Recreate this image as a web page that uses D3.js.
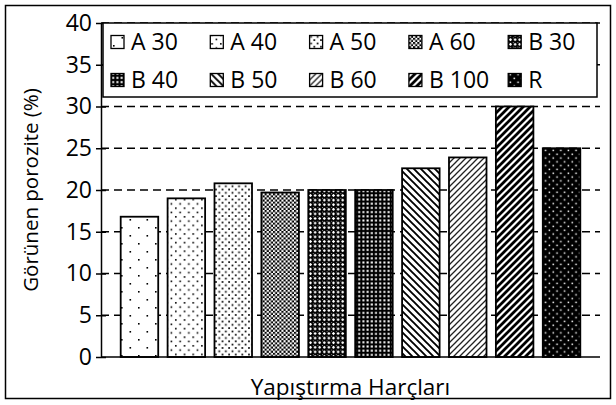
<!DOCTYPE html>
<html>
<head>
<meta charset="utf-8">
<script src="https://cdn.jsdelivr.net/npm/d3@7"></script>
<style>
  html, body { margin: 0; padding: 0; background: #fff; }
  svg { display: block; }
  text { font-family: "Open Sans", "DejaVu Sans", sans-serif; fill: #000; }
</style>
</head>
<body>
<svg id="chart" width="616" height="405"></svg>
<script>
// Mortar mixes and their apparent porosity (%)
const categories = ["A 30", "A 40", "A 50", "A 60", "B 30", "B 40", "B 50", "B 60", "B 100", "R"];
const porosity = [16.8, 19.0, 20.8, 19.7, 20.0, 20.0, 22.6, 23.9, 30.0, 25.0];
const yTicks = [0, 5, 10, 15, 20, 25, 30, 35, 40];
const yTitle = "Görünen porozite (%)";
const xTitle = "Yapıştırma Harçları";

const svg = d3.select("#chart");
const W = 616, H = 405;
const plot = { left: 101, right: 600, top: 23, bottom: 357 };

svg.append("rect").attr("width", W).attr("height", H).attr("fill", "#fff");

// ---- fill patterns, one per mix ----
const defs = svg.append("defs");
function pattern(id, w, h, bg, draw) {
  const p = defs.append("pattern").attr("id", id)
    .attr("patternUnits", "userSpaceOnUse").attr("width", w).attr("height", h);
  p.append("rect").attr("width", w).attr("height", h).attr("fill", bg);
  draw(p);
}
function dots(p, pts, s, col) {
  pts.forEach(([x, y]) => p.append("rect").attr("x", x).attr("y", y)
    .attr("width", s).attr("height", s).attr("fill", col));
}
function lines(p, d, sw, col) {
  p.append("path").attr("d", d).attr("stroke", col).attr("stroke-width", sw)
    .attr("fill", "none");
}
pattern("p0", 17, 16, "#fff", p => dots(p, [[2, 3], [10.5, 11]], 1.6, "#000"));
pattern("p1", 8.7, 8.6, "#fff", p => dots(p, [[1, 1], [5.35, 5.3]], 1.6, "#000"));
pattern("p2", 6.6, 6.6, "#fff", p => dots(p, [[0.6, 0.6], [3.9, 3.9]], 1.7, "#000"));
pattern("p3", 4.2, 4.2, "#fff", p => {
  dots(p, [[0, 0], [2.1, 2.1]], 2.1, "#000");
});
pattern("p4", 4.6, 4.6, "#000", p => {
  p.append("rect").attr("x", 0.9).attr("y", 1.7).attr("width", 2.8).attr("height", 1.2).attr("fill", "#fff");
  p.append("rect").attr("x", 1.7).attr("y", 0.9).attr("width", 1.2).attr("height", 2.8).attr("fill", "#fff");
  p.append("rect").attr("x", 0).attr("y", 0).attr("width", 0.9).attr("height", 0.9).attr("fill", "#999");
});
pattern("p5", 4.2, 4.2, "#000", p => dots(p, [[1.2, 1.1]], 2, "#fff"));
pattern("p6", 7, 7, "#fff", p =>
  lines(p, "M0,0L7,7M-1,6L1,8M6,-1L8,1", 1.9, "#000"));
pattern("p7", 6, 6, "#fff", p =>
  lines(p, "M0,6L6,0M-1,1L1,-1M5,7L7,5", 1.3, "#222"));
pattern("p8", 7, 7, "#fff", p =>
  lines(p, "M0,7L7,0M-1,1L1,-1M6,8L8,6", 2.8, "#000"));
pattern("p9", 7.6, 7.6, "#000", p => dots(p, [[1.5, 1.5], [5.3, 5.3]], 1.5, "#fff"));

// ---- scales ----
const x = d3.scaleBand().domain(categories)
  .range([plot.left, plot.right]).paddingInner(0.2).paddingOuter(0.42);
const y = d3.scaleLinear().domain([0, 40]).range([plot.bottom, plot.top]);

// dashed horizontal gridlines
svg.append("g").selectAll("line").data(yTicks.filter(d => d > 0)).join("line")
  .attr("x1", plot.left).attr("x2", plot.right)
  .attr("y1", d => y(d)).attr("y2", d => y(d))
  .attr("stroke", "#000").attr("stroke-width", 1.5)
  .attr("stroke-dasharray", "8,5");

// bars
svg.append("g").selectAll("rect").data(categories).join("rect")
  .attr("x", d => x(d)).attr("width", x.bandwidth())
  .attr("y", (d, i) => y(porosity[i]))
  .attr("height", (d, i) => y(0) - y(porosity[i]))
  .attr("fill", (d, i) => `url(#p${i})`)
  .attr("stroke", "#000").attr("stroke-width", 1.8);

// y axis with ticks crossing the line
const yAxis = d3.axisLeft(y).tickValues(yTicks).tickSizeInner(5).tickSizeOuter(0).tickPadding(4);
const gy = svg.append("g").attr("transform", `translate(${plot.left},0)`).call(yAxis);
gy.select(".domain").attr("stroke", "#000").attr("stroke-width", 1.5);
gy.selectAll(".tick line").attr("x1", -5).attr("x2", 5).attr("stroke", "#000").attr("stroke-width", 1.5);
gy.selectAll(".tick text").attr("font-size", 23).attr("font-family", null);

// x axis baseline
svg.append("line").attr("x1", plot.left).attr("x2", plot.right)
  .attr("y1", y(0)).attr("y2", y(0)).attr("stroke", "#000").attr("stroke-width", 1.5);

// legend
const legend = svg.append("g");
legend.append("rect").attr("x", 103).attr("y", 23).attr("width", 494).attr("height", 74)
  .attr("fill", "#fff").attr("stroke", "#000").attr("stroke-width", 1.5);
const item = legend.selectAll("g.item").data(categories).join("g")
  .attr("transform", (d, i) => `translate(${111 + (i % 5) * 99.3},${(i < 5 ? 42 : 80)})`);
item.append("rect").attr("x", 0).attr("y", -6.5).attr("width", 13).attr("height", 13)
  .attr("fill", (d, i) => `url(#p${i})`).attr("stroke", "#000").attr("stroke-width", 1.3);
item.append("text").attr("x", 20).attr("dy", "0.35em").attr("font-size", 23).text(d => d);

// axis titles
svg.append("text").attr("transform", `translate(31,${(plot.top + plot.bottom) / 2}) rotate(-90)`)
  .attr("text-anchor", "middle").attr("dy", "0.35em").attr("font-size", 20.5).text(yTitle);
svg.append("text").attr("x", (plot.left + plot.right) / 2).attr("y", 387)
  .attr("text-anchor", "middle").attr("dy", "0.35em").attr("font-size", 22.5).text(xTitle);

// outer frame
svg.append("rect").attr("x", 5.5).attr("y", 5.5).attr("width", 605).attr("height", 393)
  .attr("fill", "none").attr("stroke", "#000").attr("stroke-width", 1.5);
</script>
</body>
</html>
